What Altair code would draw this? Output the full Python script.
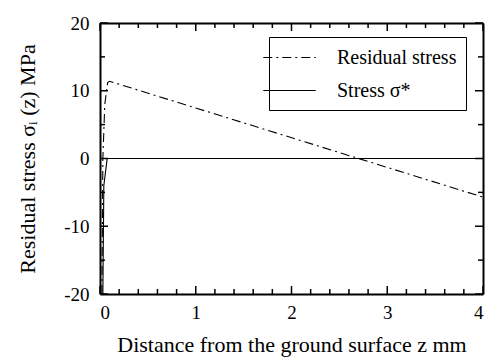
import altair as alt
import pandas as pd

FONT = "Liberation Serif"

# Residual stress curve (dash-dot)
res_z = [0.02, 0.03, 0.05, 0.08, 0.1, 4.0]
res_s = [-20.0, 0.0, 8.0, 11.2, 11.4, -5.7]
# Stress sigma* (solid)
sig_z = [0.03, 0.04, 0.075, 4.0]
sig_s = [-20.0, -4.0, 0.0, 0.0]

series_names = ["Residual stress", "Stress σ*"]

x_major = [0, 1, 2, 3, 4]
x_minor = [0.2, 0.4, 0.6, 0.8, 1.2, 1.4, 1.6, 1.8, 2.2, 2.4, 2.6, 2.8,
           3.2, 3.4, 3.6, 3.8]
y_major = [-20, -10, 0, 10, 20]
y_minor = [-15, -5, 5, 15]

rows = []
for i, (z, s) in enumerate(zip(res_z, res_s)):
    rows.append({"z": z, "s": s, "series": series_names[0], "order": i})
for i, (z, s) in enumerate(zip(sig_z, sig_s)):
    rows.append({"z": z, "s": s, "series": series_names[1], "order": i})
df = pd.DataFrame(rows)

xscale = alt.Scale(domain=[0, 4], nice=False, zero=False)
yscale = alt.Scale(domain=[-20, 20], nice=False, zero=False)

HYPHEN = "replace(datum.label, '\u2212', '-')"

common = dict(labelFont=FONT, labelFontSize=19, labelColor="black",
              titleFont=FONT, titleFontSize=22, titleColor="black",
              titleFontWeight="normal", grid=False,
              domainColor="black", domainWidth=2)

lines = alt.Chart(df).mark_line(color="black", strokeWidth=1.1, clip=True).encode(
    x=alt.X("z:Q", scale=xscale,
            axis=alt.Axis(orient="bottom", values=x_major, ticks=False, domain=True,
                          labelPadding=9, titlePadding=12,
                          title="Distance from the ground surface  z  mm", **common)),
    y=alt.Y("s:Q", scale=yscale,
            axis=alt.Axis(orient="left", values=y_major, ticks=False, domain=True,
                          labelPadding=11, titlePadding=24, labelExpr=HYPHEN,
                          title="Residual stress σᵢ (z) MPa", **common)),
    strokeDash=alt.StrokeDash(
        "series:N",
        scale=alt.Scale(domain=series_names, range=[[9, 4, 2, 4], [1, 0]]),
        legend=alt.Legend(title=None, orient="none", legendX=169, legendY=14,
                          symbolType="M-2.5,0H2.5", symbolSize=440,
                          symbolStrokeWidth=1.1, symbolStrokeColor="black",
                          labelFont=FONT, labelFontSize=20, labelColor="black",
                          strokeColor="black", fillColor="white", padding=9,
                          rowPadding=11, labelOffset=36),
    ),
    order="order:Q",
)

# frame: top and right domain lines
frame = alt.Chart(df).mark_point(opacity=0).encode(
    x=alt.X("z:Q", scale=xscale,
            axis=alt.Axis(orient="top", ticks=False, labels=False, domain=True,
                          title=None, grid=False, domainColor="black", domainWidth=2)),
    y=alt.Y("s:Q", scale=yscale,
            axis=alt.Axis(orient="right", ticks=False, labels=False, domain=True,
                          title=None, grid=False, domainColor="black", domainWidth=2)),
)


def xticks(values, edge, size, sign):
    d = pd.DataFrame({"t": values})
    return alt.Chart(d).mark_tick(color="black", opacity=1, thickness=1.5, size=size,
                                  orient="vertical", yOffset=sign * size / 2).encode(
        x=alt.X("t:Q", scale=xscale, axis=None),
        y=alt.Y(datum=edge, scale=yscale, axis=None),
    )


def yticks(values, edge, size, sign):
    d = pd.DataFrame({"t": values})
    return alt.Chart(d).mark_tick(color="black", opacity=1, thickness=1.5, size=size,
                                  orient="horizontal", xOffset=sign * size / 2).encode(
        y=alt.Y("t:Q", scale=yscale, axis=None),
        x=alt.X(datum=edge, scale=xscale, axis=None),
    )


chart = alt.layer(
    lines,
    frame,
    xticks(x_major, -20, 8, -1),
    xticks(x_minor, -20, 5, -1),
    xticks(x_major, 20, 8, 1),
    xticks(x_minor, 20, 5, 1),
    yticks(y_major, 0, 8, 1),
    yticks(y_minor, 0, 5, 1),
    yticks(y_major, 4, 8, -1),
    yticks(y_minor, 4, 5, -1),
).resolve_axis(x="independent", y="independent").properties(
    width=383, height=271,
    autosize=alt.AutoSizeParams(type="none"),
    padding={"left": 100, "top": 23, "right": 5, "bottom": 65},
)

chart.save("out.html", embed_options={"renderer": "svg", "actions": False})
